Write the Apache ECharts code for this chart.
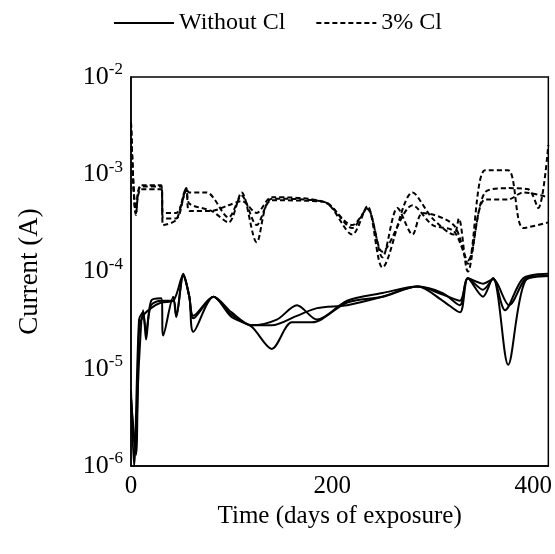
<!DOCTYPE html>
<html style="height: 100%">
<head><meta charset="utf-8"></head>
<body style="height: 100%; margin: 0">
<div id="container" style="height: 100%"></div>
<script src="https://cdn.jsdelivr.net/npm/echarts@6/dist/echarts.min.js"></script>
<script>
// [day, current A]
var noCl1 = [[0,6e-6],[3,1e-6],[8,3.2e-5],[12,3.8e-5],[15,2e-5],[20,5e-5],[30,5.3e-5],[32,2.2e-5],[42,5.5e-5],[45,3.4e-5],[52,9.5e-5],[58,5.5e-5],[62,3.3e-5],[82,5.5e-5],[100,3.4e-5],[120,2.7e-5],[140,1.6e-5],[160,3e-5],[180,3e-5],[215,4.8e-5],[250,5.5e-5],[285,7e-5],[310,5e-5],[327,3.8e-5],[335,8.5e-5],[350,5.5e-5],[360,8.5e-5],[372,4e-5],[390,8.5e-5],[415,9.5e-5]];
var noCl2 = [[0,5e-6],[4,1.5e-6],[8,1.2e-5],[12,4e-5],[15,2.4e-5],[20,4.5e-5],[30,5e-5],[42,5e-5],[45,3.5e-5],[52,9e-5],[58,5.5e-5],[62,2.4e-5],[82,5.5e-5],[100,3.6e-5],[120,2.8e-5],[145,3.2e-5],[165,4.5e-5],[185,3.2e-5],[215,5e-5],[250,6e-5],[285,7e-5],[310,5.8e-5],[327,5e-5],[335,8.5e-5],[350,6.5e-5],[360,8.5e-5],[375,1.1e-5],[392,8e-5],[415,9e-5]];
var noCl3 = [[0,5e-6],[5,1.3e-6],[8,2.5e-5],[12,3.5e-5],[20,4.2e-5],[30,4.8e-5],[42,5e-5],[52,9.3e-5],[58,5.5e-5],[62,3.5e-5],[82,5.5e-5],[100,3.8e-5],[120,2.8e-5],[140,2.8e-5],[165,3.5e-5],[185,4.2e-5],[215,4.5e-5],[250,5.5e-5],[285,7e-5],[310,6e-5],[327,4.5e-5],[335,8.5e-5],[350,7.5e-5],[360,8.3e-5],[376,4.5e-5],[395,8.8e-5],[415,9e-5]];
var cl1 = [[0,3.4e-3],[5,4e-4],[10,7.7e-4],[30,7.7e-4],[32,3.5e-4],[45,3.5e-4],[55,7.2e-4],[58,5e-4],[80,4.2e-4],[97,3.2e-4],[110,6.5e-4],[125,2e-4],[140,5.6e-4],[192,5.2e-4],[220,2.4e-4],[235,4.7e-4],[250,1.1e-4],[280,6.5e-4],[300,3.5e-4],[321,2.4e-4],[326,3.5e-4],[335,1e-4],[352,5.5e-4],[375,5.5e-4],[390,6.5e-4],[415,5.8e-4]];
var cl2 = [[0,3.4e-3],[5,3.8e-4],[10,7e-4],[30,7e-4],[32,3e-4],[45,3.4e-4],[55,7e-4],[58,6.5e-4],[75,6.5e-4],[97,3.6e-4],[110,6e-4],[125,3e-4],[140,5.4e-4],[192,5.2e-4],[220,2.8e-4],[235,4.5e-4],[250,1.6e-4],[280,4.8e-4],[300,3e-4],[321,2.6e-4],[335,1.3e-4],[352,6.5e-4],[375,7.2e-4],[395,7e-4],[405,4.5e-4],[415,2e-3]];
var cl3 = [[0,3.4e-3],[5,4e-4],[10,7.5e-4],[30,7.5e-4],[32,4e-4],[45,4e-4],[55,6.8e-4],[58,4.2e-4],[80,4.2e-4],[97,4.8e-4],[110,5.3e-4],[125,4e-4],[140,5.8e-4],[192,5.2e-4],[220,3e-4],[235,4.4e-4],[250,1.4e-4],[265,4.5e-4],[280,2.4e-4],[290,4e-4],[321,3e-4],[335,1.2e-4],[352,1.1e-3],[375,1.1e-3],[390,2.8e-4],[415,3.2e-4]];
var xTicks = [0, 200, 400];

var font = 'Liberation Serif';
var chart = echarts.init(document.getElementById('container'));
function mk(name, data, dashed) {
  return {name: name, type: 'line', data: data, smooth: 0.3, symbol: 'none',
    lineStyle: {color: '#000', width: 2, type: dashed ? [5, 3] : 'solid'}, itemStyle: {color: '#000'}};
}
chart.setOption({
  animation: false,
  legend: {top: 6, left: 'center', itemWidth: 60, itemHeight: 14, itemGap: 30,
    itemStyle: {opacity: 0},
    textStyle: {fontFamily: font, fontSize: 24, color: '#000'},
    data: ['Without Cl', '3% Cl']},
  grid: {left: 131, right: 6, top: 77, bottom: 88},
  xAxis: {type: 'value', min: 0, max: 415, interval: 200,
    name: 'Time (days of exposure)', nameLocation: 'middle', nameGap: 38,
    nameTextStyle: {fontFamily: font, fontSize: 25, color: '#000'},
    axisLine: {lineStyle: {color: '#000', width: 1.5}}, axisTick: {show: false},
    splitLine: {show: false},
    axisLabel: {fontFamily: font, fontSize: 25, color: '#000',
      formatter: function (v) { return xTicks.indexOf(v) >= 0 ? v : ''; }}},
  yAxis: {type: 'log', min: 1e-6, max: 1e-2, logBase: 10,
    name: 'Current (A)', nameLocation: 'middle', nameGap: 88,
    nameTextStyle: {fontFamily: font, fontSize: 27, color: '#000'},
    axisLine: {show: true, lineStyle: {color: '#000', width: 1.5}}, axisTick: {show: false},
    splitLine: {show: false},
    axisLabel: {fontFamily: font, fontSize: 26, color: '#000', margin: 8,
      formatter: function (v) { return '10{s|' + Math.round(Math.log10(v)) + '}'; },
      rich: {s: {fontFamily: font, fontSize: 17, verticalAlign: 'top', padding: [0, 0, 14, 0], color: '#000'}}}},
  series: [
    mk('Without Cl', noCl1, false), mk('Without Cl', noCl2, false), mk('Without Cl', noCl3, false),
    mk('3% Cl', cl1, true), mk('3% Cl', cl2, true), mk('3% Cl', cl3, true),
    {type: 'line', data: [], silent: true,
      markArea: {silent: true, itemStyle: {color: 'none', borderColor: '#000', borderWidth: 1.5},
        data: [[{coord: [0, 1e-2]}, {coord: [415, 1e-6]}]]}}
  ]
});
</script>
</body>
</html>
